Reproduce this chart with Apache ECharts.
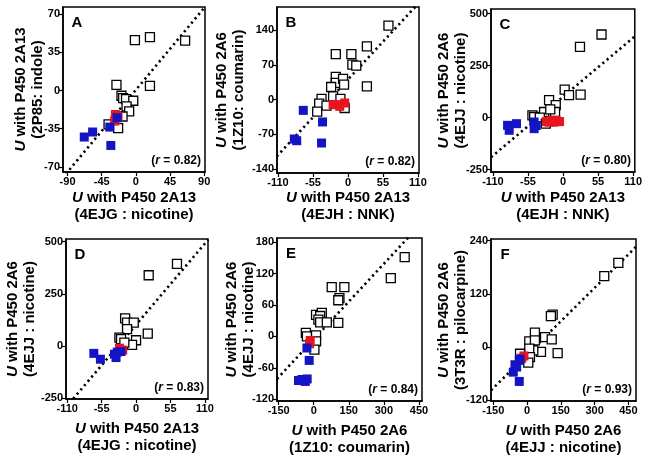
<!DOCTYPE html>
<html><head><meta charset="utf-8">
<script src="https://cdn.jsdelivr.net/npm/echarts@6/dist/echarts.min.js"></script>
<style>html,body{margin:0;padding:0;background:#fff}#c{width:645px;height:460px}</style>
</head><body><div id="c"></div>
<script>
// ---------- DATA ----------
const panelLetters = ['A', 'B', 'C', 'D', 'E', 'F'];
const rValues = ['0.82', '0.82', '0.80', '0.83', '0.84', '0.93'];
const yTitle1 = ['U with P450 2A13', 'U with P450 2A6', 'U with P450 2A6', 'U with P450 2A6', 'U with P450 2A6', 'U with P450 2A6'];
const yTitle2 = ['(2P85: indole)', '(1Z10: coumarin)', '(4EJJ : nicotine)', '(4EJJ : nicotine)', '(4EJJ : nicotine)', '(3T3R : pilocarpine)'];
const xTitle1 = ['U with P450 2A13', 'U with P450 2A13', 'U with P450 2A13', 'U with P450 2A13', 'U with P450 2A6', 'U with P450 2A6'];
const xTitle2 = ['(4EJG : nicotine)', '(4EJH : NNK)', '(4EJH : NNK)', '(4EJG : nicotine)', '(1Z10: coumarin)', '(4EJJ : nicotine)'];

const xTicks = [[-90, -45, 0, 45, 90], [-110, -55, 0, 55, 110], [-110, -55, 0, 55, 110], [-110, -55, 0, 55, 110], [-150, 0, 150, 300, 450], [-150, 0, 150, 300, 450]];
const yTicks = [[-70, -35, 0, 35, 70], [-140, -70, 0, 70, 140], [-250, 0, 250, 500], [-250, 0, 250, 500], [-120, -60, 0, 60, 120, 180], [-120, 0, 120, 240]];
const xMin = [-96, -111.6, -113, -112, -157, -160];
const xMax = [91, 111.6, 112.6, 115, 463, 484];
const yMin = [-74.6, -148, -261.6, -255, -123, -121.6];
const yMax = [76.4, 187, 522.7, 513, 187.6, 243.8];

const A_open = [[-1.3, 46], [18.5, 48.8], [64.8, 45.7], [-25.6, 5.2], [18.5, 4.3], [-19, -4.8], [-16.8, -7], [-13, -7.9], [-3.5, -9.4], [-12.3, -14.6], [-8.9, -19.2], [-17.6, -23.8], [-23.4, -34.4], [-36, -31]];
const A_red = [[-27, -22], [-23.5, -24], [-28, -28]];
const A_blue = [[-68, -42.6], [-57, -38], [-34.4, -33.5], [-24.7, -25], [-33, -50.3]];
const A_fit = [[-97, -80.4], [91, 76.5]];

const B_open = [[63.6, 149.5], [29.7, 107.7], [-19.2, 92], [5.3, 92], [6.9, 70.7], [13, 68.7], [-19.2, 45.8], [-19.2, 33.7], [-7.8, 41.8], [-6.2, 30.3], [-26.5, 25.6], [29.7, 27], [-23.4, 6.7], [-11.9, 1.4], [-41.6, 1.4], [-45.3, -8], [-33.8, -12], [-48.4, -24], [-5.2, -16.8]];
const B_red = [[-23.4, -10], [-18, -10], [-13, -13.5], [-5.2, -6.7]];
const B_blue = [[-70.3, -21.6], [-40, -45], [-84.4, -79.4], [-80.6, -82.8], [-41.6, -87.5]];
const B_fit = [[-112, -114.5], [112, 196]];

const C_open = [[60.4, 400], [26.6, 340], [2.6, 135], [9.4, 108], [27.6, 111], [-21.9, 84], [-11.4, 60], [-12.5, 27], [-29.7, 27], [-20, 40], [-48, 11], [-45.3, 3], [-36.4, 0], [-27, -29]];
const C_red = [[-26, -19], [-18, -14], [-10.7, -14], [-5.4, -19], [-22, -22], [-14, -22]];
const C_blue = [[-87, -37], [-84.4, -61], [-73, -29], [-45.3, -21], [-45.3, -53], [-42, -38]];
const C_fit = [[-113, -190.6], [113, 392]];

const D_open = [[65.4, 394], [20.2, 339], [18.7, 59], [-17.5, 132], [-14.4, 112], [-3.7, 112], [-14.4, 80], [-26.6, 40], [-24, 32], [0, 27], [-6.4, 5], [-18.7, 16]];
const D_red = [[-26.6, -11], [-21.3, -20]];
const D_blue = [[-67.5, -36], [-57, -64], [-34.6, -40], [-32, -56], [-24, -27], [-30, -30]];
const D_fit = [[-112, -294.6], [115.3, 510]];

const E_open = [[389, 151], [329.6, 111], [77, 94], [131, 94], [110, 73], [105, 69], [10, 41], [34.7, 45], [27.5, 39], [20, 32], [27.5, 27], [56, 27], [105, 26], [-33.6, 7], [-29, 0], [10, 2], [10, -9.5], [3, -25]];
const E_red = [[-15, -7.6], [-18, -14]];
const E_blue = [[-29, -22], [-19.4, -45.7], [-50.4, -82], [-36, -85.7], [-65, -84], [-28, -81]];
const E_fit = [[-157, -80.9], [463, 216.7]];

const F_open = [[405.6, 190], [343, 160], [114, 73], [106, 70], [35, 32.5], [80, 22.6], [109.6, 17.4], [10, 13], [35, 15], [62, -11], [136, -13.6], [27.8, -7.5], [10, -3.6], [13, -22.6], [5.6, -35], [-31, -15]];
const F_red = [[-13.6, -20], [-23, -25]];
const F_blue = [[-53.6, -39.8], [-61, -56.5], [-34.4, -30], [-34.4, -77.5], [-46, -45], [-31, -27]];
const F_fit = [[-160, -97.5], [484, 226]];

// ---------- LAYOUT ----------
const openSets = [A_open, B_open, C_open, D_open, E_open, F_open];
const redSets = [A_red, B_red, C_red, D_red, E_red, F_red];
const blueSets = [A_blue, B_blue, C_blue, D_blue, E_blue, F_blue];
const fitSets = [A_fit, B_fit, C_fit, D_fit, E_fit, F_fit];

const boxes = [[63, 7, 142, 165], [277, 7, 142, 166], [491, 9, 144, 163], [66, 239, 142, 160], [277, 238, 145, 163], [491, 239, 145, 162]];
const yGap = [17, 30, 22, 28, 20, 22];
const xGap = [17, 16, 17, 21, 21, 21];

const FONT = '"Liberation Sans", Arial, Helvetica, sans-serif';
const titleStyle = {
  fontFamily: FONT, fontSize: 15, fontWeight: 'bold', color: '#000', lineHeight: 17,
  rich: { i: { fontFamily: FONT, fontSize: 15, fontWeight: 'bold', fontStyle: 'italic', color: '#000', lineHeight: 17 },
          n: { fontFamily: FONT, fontSize: 15, fontWeight: 'bold', color: '#000', lineHeight: 17 } }
};
function richTitle(l1, l2) {
  return '{i|U}{n|' + l1.slice(1) + '}\n{n|' + l2 + '}';
}

const grids = [], xAxes = [], yAxes = [], series = [], graphics = [];
for (let i = 0; i < 6; i++) {
  const b = boxes[i];
  grids.push({ left: b[0], top: b[1], width: b[2], height: b[3], show: true, borderColor: '#000', borderWidth: 1.5, containLabel: false });
  const axisCommon = {
    type: 'value', gridIndex: i, splitLine: { show: false },
    axisLine: { show: true, onZero: false, lineStyle: { color: '#000', width: 1.5 } },
    nameLocation: 'middle', nameTextStyle: titleStyle, nameMoveOverlap: false
  };
  xAxes.push(Object.assign({}, axisCommon, {
    min: xMin[i], max: xMax[i],
    axisTick: { show: true, length: 4, customValues: xTicks[i], lineStyle: { color: '#000', width: 1.2 } },
    axisLabel: { customValues: xTicks[i], color: '#000', fontFamily: FONT, fontSize: 11, fontWeight: 'bold', margin: 4 },
    name: richTitle(xTitle1[i], xTitle2[i]), nameGap: xGap[i]
  }));
  yAxes.push(Object.assign({}, axisCommon, {
    min: yMin[i], max: yMax[i],
    axisTick: { show: true, length: 4, customValues: yTicks[i], lineStyle: { color: '#000', width: 1.2 } },
    axisLabel: { customValues: yTicks[i], color: '#000', fontFamily: FONT, fontSize: 11, fontWeight: 'bold', margin: 3 },
    name: richTitle(yTitle1[i], yTitle2[i]), nameGap: yGap[i], nameRotate: 90
  }));
  series.push({ type: 'line', xAxisIndex: i, yAxisIndex: i, data: fitSets[i], symbol: 'none', clip: true, silent: true,
    lineStyle: { color: '#000', width: 2.6, type: [2.2, 3.4] }, z: 1 });
  series.push({ type: 'scatter', xAxisIndex: i, yAxisIndex: i, data: openSets[i], symbol: 'rect', symbolSize: 9,
    itemStyle: { color: '#fff', borderColor: '#000', borderWidth: 1.3, opacity: 1 }, z: 2 });
  series.push({ type: 'scatter', xAxisIndex: i, yAxisIndex: i, data: redSets[i], symbol: 'rect', symbolSize: 9,
    itemStyle: { color: '#e8141e', opacity: 1 }, z: 3 });
  series.push({ type: 'scatter', xAxisIndex: i, yAxisIndex: i, data: blueSets[i], symbol: 'rect', symbolSize: 9,
    itemStyle: { color: '#1414c4', opacity: 1 }, z: 4 });
  graphics.push({ type: 'text', x: b[0] + 14, y: b[1] + 16, z: 10,
    style: { text: panelLetters[i], fontFamily: FONT, fontSize: 15, fontWeight: 'bold', fill: '#000', align: 'center', verticalAlign: 'middle' } });
  graphics.push({ type: 'text', x: b[0] + b[2] - 4, y: b[1] + b[3] - 11, z: 10,
    style: { text: '({i|r}{n| = ' + rValues[i] + '})', fontFamily: FONT, fontSize: 12, fontWeight: 'bold', fill: '#000', align: 'right', verticalAlign: 'middle',
      rich: { i: { fontFamily: FONT, fontSize: 12, fontWeight: 'bold', fontStyle: 'italic', fill: '#000' },
              n: { fontFamily: FONT, fontSize: 12, fontWeight: 'bold', fill: '#000' } } } });
}

const chart = echarts.init(document.getElementById('c'), null, { renderer: 'canvas' });
chart.setOption({
  animation: false,
  backgroundColor: '#fff',
  grid: grids, xAxis: xAxes, yAxis: yAxes, series: series, graphic: graphics
});
</script>
</body></html>
